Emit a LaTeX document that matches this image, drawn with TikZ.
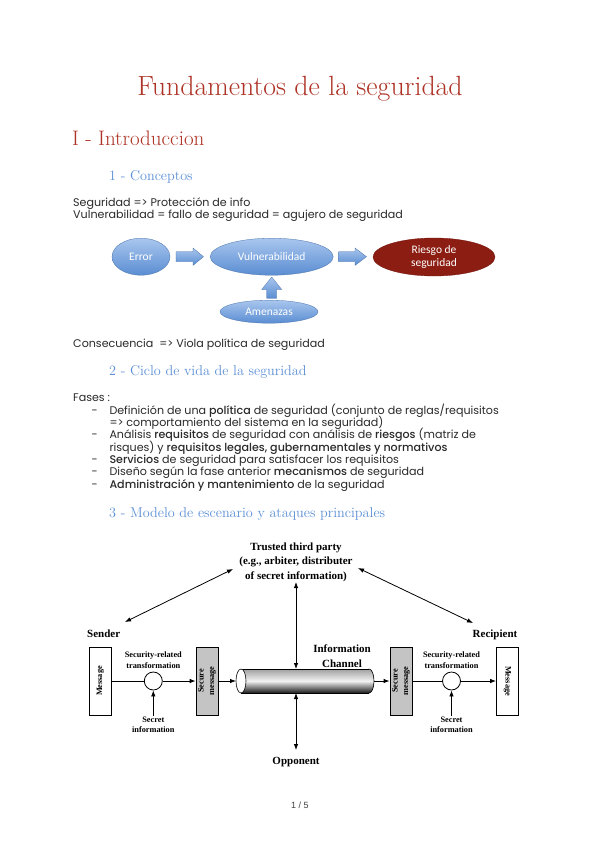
\documentclass[tikz,border=0pt]{standalone}
\usepackage{fontspec}
\usetikzlibrary{arrows.meta,shapes.geometric}
\newfontfamily\bodyf{Poppins}[BoldFont={Poppins Medium}]
\newfontfamily\calf{Carlito}
\newfontfamily\timesf{Liberation Serif}
\newfontfamily\pagef{Liberation Sans}
\definecolor{titlered}{HTML}{AE3326}
\definecolor{headblue}{HTML}{5B8FD5}
\definecolor{txt}{HTML}{2A2A2A}
\definecolor{ellT}{HTML}{A9C6EE}
\definecolor{ellB}{HTML}{5A8DD2}
\definecolor{riesgo}{HTML}{8C1D12}
\definecolor{secgray}{HTML}{C4C4C4}
\begin{document}
\begin{tikzpicture}[x=1pt,y=-1pt,
  txtn/.style={anchor=base west,inner sep=0pt,text=txt,font=\bodyf\fontsize{11.1}{13}\selectfont},
  title/.style={anchor=base,inner sep=0pt,text=titlered,font=\fontsize{27.8}{30}\selectfont},
  sec/.style={anchor=base west,inner sep=0pt,text=titlered,font=\fontsize{21}{24}\selectfont},
  subsec/.style={anchor=base west,inner sep=0pt,text=headblue,font=\fontsize{14.2}{17}\selectfont},
  ell/.style={ellipse,draw=ellB!80!black,line width=0.3pt,top color=ellT,bottom color=ellB,text=white,inner sep=0pt,font=\calf\fontsize{11.5}{13.5}\selectfont,align=center},
  barrow/.style={top color=ellT,bottom color=ellB,draw=ellB!80!black,line width=0.3pt},
  big/.style={inner sep=0pt,font=\timesf\bfseries\fontsize{11}{14.5}\selectfont,align=center},
  small/.style={inner sep=0pt,font=\timesf\bfseries\fontsize{8.3}{10.5}\selectfont,align=center},
  box/.style={draw,line width=0.8pt,minimum width=22pt,minimum height=68pt,inner sep=0pt},
  circ/.style={circle,draw,line width=0.8pt,fill=white,minimum size=18pt,inner sep=0pt},
  conn/.style={line width=0.8pt},
  arr/.style={line width=0.8pt,-{Latex[length=6pt,width=4.5pt]}},
  darr/.style={line width=0.8pt,{Latex[length=6pt,width=4.5pt]}-{Latex[length=6pt,width=4.5pt]}}
]
\useasboundingbox[fill=white] (0,0) rectangle (600,848);
% headings
\node[title] (t) at (300,96) {Fundamentos de la seguridad};
\node[sec] (s1) at (72,145) {I - Introduccion};
\node[subsec] (ss1) at (109,180.5) {1 - Conceptos};
\node[txtn] (l1) at (73,206.5) {Seguridad => Protección de info};
\node[txtn] (l2) at (73,218.3) {Vulnerabilidad = fallo de seguridad = agujero de seguridad};
% ellipse diagram
\node[ell,minimum width=58pt,minimum height=37pt] (err) at (141,256.7) {Error};
\node[ell,minimum width=123pt,minimum height=37pt] (vul) at (271.7,256.7) {Vulnerabilidad};
\node[ell,minimum width=122pt,minimum height=38pt,top color=riesgo,bottom color=riesgo,draw=riesgo!80!black] (rie) at (434,257) {Riesgo de\\seguridad};
\node[ell,minimum width=98pt,minimum height=23pt] (ame) at (269,311.7) {Amenazas};
\path[barrow] (176,251.7) -- (193,251.7) -- (193,248) -- (203.5,256.7) -- (193,265.4) -- (193,261.7) -- (176,261.7) -- cycle;
\path[barrow] (338.5,251.7) -- (355,251.7) -- (355,248) -- (366.5,256.7) -- (355,265.4) -- (355,261.7) -- (338.5,261.7) -- cycle;
\path[barrow] (266.7,298.3) -- (266.7,289.5) -- (261.7,289.5) -- (271.7,277) -- (281.7,289.5) -- (276.7,289.5) -- (276.7,298.3) -- cycle;
\node[txtn] (cons) at (73,347) {Consecuencia\ \ => Viola política de seguridad};
% section 2
\node[subsec] (ss2) at (109,375.7) {2 - Ciclo de vida de la seguridad};
\node[txtn] (fases) at (73,401.7) {Fases :};
\foreach \y in {414.5,438.5,463,475.5,488} \node[txtn] at (91.5,\y) {-};
\node[txtn] (i1) at (109.3,414.5) {Definición de una {\bfseries política} de seguridad (conjunto de reglas/requisitos};
\node[txtn] (i1b) at (109.3,426.5) {=> comportamiento del sistema en la seguridad)};
\node[txtn] (i2) at (109.3,438.5) {Análisis {\bfseries requisitos} de seguridad con análisis de {\bfseries riesgos} (matriz de};
\node[txtn] (i2b) at (109.3,451) {risques) y {\bfseries requisitos legales, gubernamentales y normativos}};
\node[txtn] (i3) at (109.3,463) {{\bfseries Servicios} de seguridad para satisfacer los requisitos};
\node[txtn] (i4) at (109.3,475.5) {Diseño según la fase anterior {\bfseries mecanismos} de seguridad};
\node[txtn] (i5) at (109.3,488) {{\bfseries Administración y mantenimiento} de la seguridad};
\node[subsec] (ss3) at (109,517) {3 - Modelo de escenario y ataques principales};
% security model diagram
\node[big] (tp) at (296,562) {Trusted third party\\(e.g., arbiter, distributer\\of secret information)};
\node[big,anchor=base west] (snd) at (87,637) {Sender};
\node[big,anchor=base west] (rcp) at (472.5,637) {Recipient};
\node[big] (ch) at (342,656) {Information\\Channel};
\node[big,anchor=base] (opp) at (296,764) {Opponent};
\node[box,fill=white] (m1) at (100.3,681) {};
\node[small,rotate=90] at (m1) {Message};
\node[box,fill=secgray] (s1b) at (207,681) {};
\node[small,rotate=90] at (s1b) {Secure\\message};
\node[box,fill=secgray] (s2b) at (401,681) {};
\node[small,rotate=90] at (s2b) {Secure\\message};
\node[box,fill=white] (m2) at (507.5,681) {};
\node[small,rotate=-90] at (m2) {Message};
\node[circ] (c1) at (153.3,681) {};
\node[circ] (c2) at (451.5,681) {};
\node[small] (srt1) at (153.3,660) {Security-related\\transformation};
\node[small] (srt2) at (451.5,660) {Security-related\\transformation};
\node[small] (si1) at (153.3,725) {Secret\\information};
\node[small] (si2) at (451.5,725) {Secret\\information};
% channel cylinder
\coordinate (chL) at (241,681);
\coordinate (chR) at (369,681);
\fill[top color=gray!75,bottom color=black!90,middle color=white!90!gray,draw=black,line width=0.6pt] (chR) ellipse [x radius=5pt,y radius=12pt];
\fill[top color=gray!75,bottom color=black!90,middle color=white!90!gray] (241,669) rectangle (369,693);
\draw[line width=0.6pt] (241,669) -- (369,669) (241,693) -- (369,693);
\draw[line width=0.6pt,fill=white] (chL) ellipse [x radius=5pt,y radius=12pt];
\coordinate (chLw) at (236,681);
\coordinate (chRe) at (374,681);
\coordinate (chT) at (296,669);
\coordinate (chB) at (296,693);
% connectors
\draw[conn] (m1.east) -- (c1.west);
\draw[arr] (c1.east) -- (s1b.west);
\draw[arr] (s1b.east) -- (chLw);
\draw[arr] (chRe) -- (s2b.west);
\draw[conn] (s2b.east) -- (c2.west);
\draw[arr] (c2.east) -- (m2.west);
\draw[arr] (si1.north) ++(0,-1) -- (c1.south);
\draw[arr] (si2.north) ++(0,-1) -- (c2.south);
\coordinate (tpL) at (233,569);
\coordinate (tpR) at (358,568);
\coordinate (tpB) at (296,582);
\coordinate (sndA) at (125,622);
\coordinate (rcpA) at (473,623);
\coordinate (oppT) at (296,750);
\draw[darr] (tpL) -- (sndA);
\draw[darr] (tpR) -- (rcpA);
\draw[darr] (tpB) -- (chT);
\draw[darr] (chB) -- (oppT);
\node[anchor=base,inner sep=0pt,text=black!75,font=\pagef\fontsize{9}{11}\selectfont] (pg) at (300,808) {1 / 5};
\end{tikzpicture}
\end{document}
